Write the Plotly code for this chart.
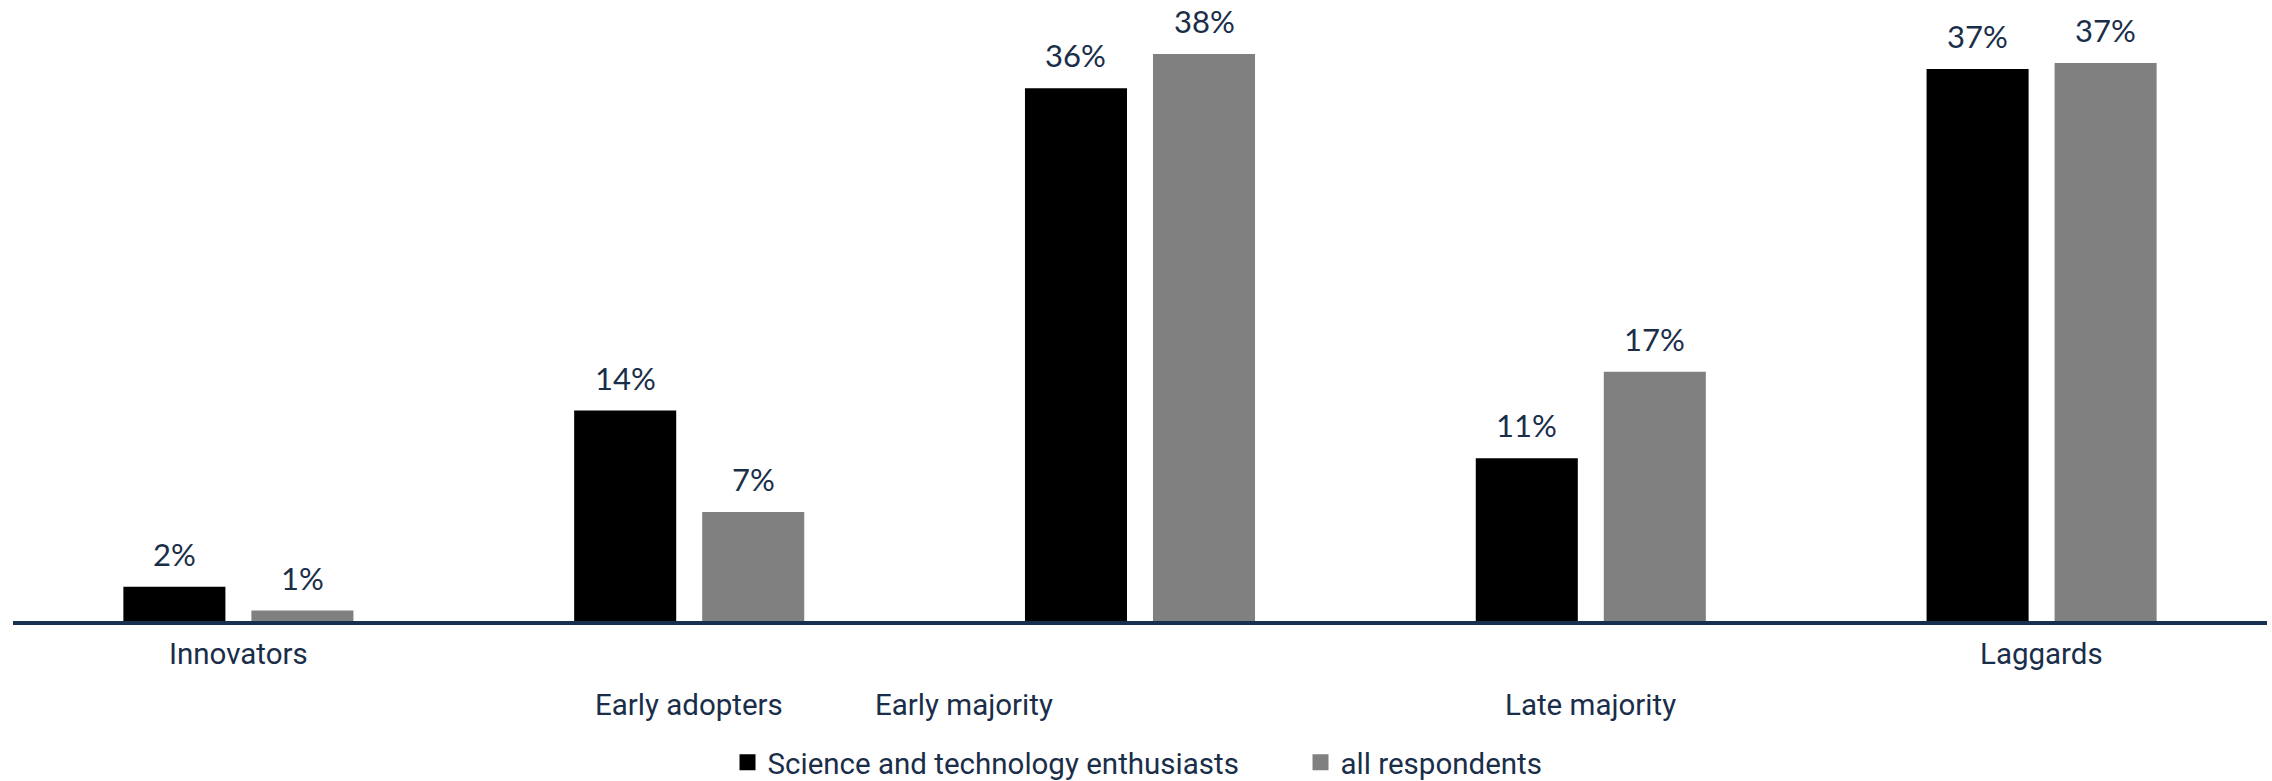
import plotly.graph_objects as go

# Adopter categories and survey shares (percent)
categories = ["Innovators", "Early adopters", "Early majority", "Late majority", "Laggards"]
enthusiasts = [2.3, 14.1, 35.7, 10.9, 37.0]
all_respondents = [0.7, 7.3, 38.0, 16.7, 37.4]
series_names = ["Science and technology enthusiasts", "all respondents"]
series_colors = ["#000000", "#808080"]

# Category label placement: (x position in category units, row)
label_pos = [0.0, 1.0, 1.61, 3.0, 4.0]
label_row = [0, 1, 1, 1, 0]

NAVY = "#1a2e4a"
BAR_GAP = 0.432
GROUP_GAP = 0.203

fig = go.Figure()
for name, vals, col in zip(series_names, [enthusiasts, all_respondents], series_colors):
    fig.add_bar(x=categories, y=vals, name=name, legendgroup=name, showlegend=False,
                marker=dict(color=col, line=dict(width=0)))
# larger square swatches for the legend
for name, col in zip(series_names, series_colors):
    fig.add_scatter(x=[None], y=[None], mode="markers", name=name, legendgroup=name,
                    marker=dict(symbol="square", size=16, color=col), hoverinfo="skip")

# value labels above each bar
slot = (1 - BAR_GAP) / 2
annotations = []
for k, vals in enumerate([enthusiasts, all_respondents]):
    off = (k - 0.5) * slot
    for i, v in enumerate(vals):
        annotations.append(dict(
            x=i + off, y=v, xref="x", yref="y", text=f"{round(v)}%",
            showarrow=False, yanchor="bottom", yshift=12,
            font=dict(family="Lato", size=31, color=NAVY)))

# staggered category labels below the axis
for name, xp, row in zip(categories, label_pos, label_row):
    annotations.append(dict(
        x=xp, y=0, xref="x", yref="paper", text=name, showarrow=False,
        yanchor="middle", yshift=-33 - 51 * row,
        font=dict(family="Roboto", size=29.5, color=NAVY)))

fig.update_layout(
    width=2272, height=781,
    margin=dict(l=13, r=5, t=0, b=160, autoexpand=False),
    paper_bgcolor="white", plot_bgcolor="white",
    barmode="group", bargap=BAR_GAP, bargroupgap=GROUP_GAP,
    showlegend=True,
    legend=dict(orientation="h", x=0.317, xanchor="left", y=-0.228, yanchor="middle",
                font=dict(family="Roboto", size=29.5, color=NAVY),
                itemsizing="trace",
                entrywidth=528, entrywidthmode="pixels", traceorder="normal"),
    annotations=annotations,
    xaxis=dict(showline=True, linecolor="#17304f", linewidth=4, showticklabels=False,
               ticks="", showgrid=False, zeroline=False, range=[-0.5, 4.5]),
    yaxis=dict(visible=False, range=[0, 41.62], showgrid=False, zeroline=False),
)

fig.write_html("out.html")
